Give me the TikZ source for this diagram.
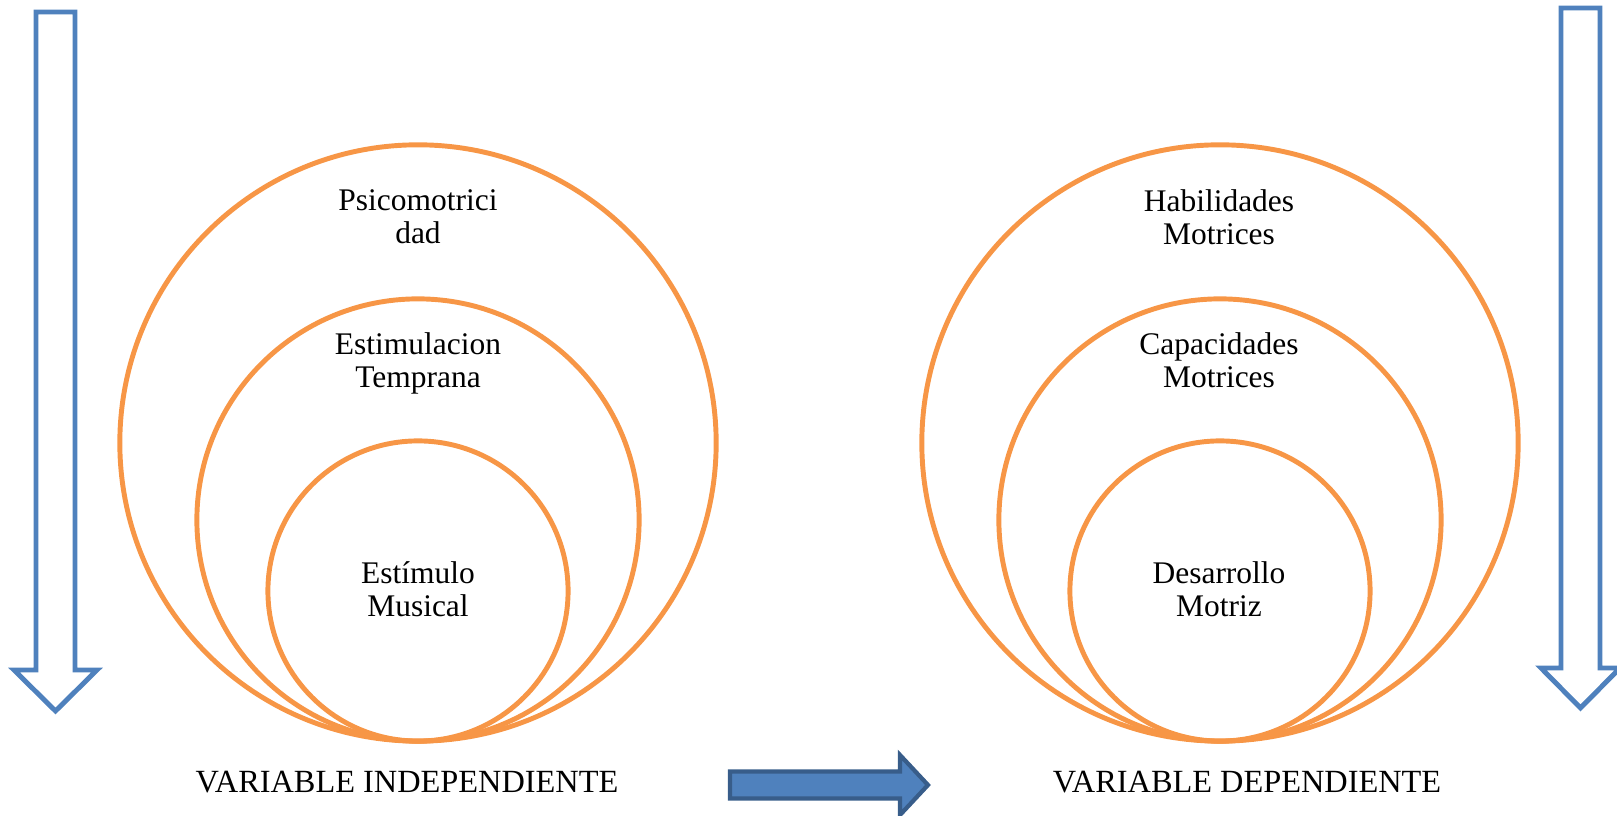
\documentclass[tikz,border=0pt]{standalone}
\usepackage{fontspec}
\setmainfont{Liberation Serif}
\definecolor{ringorange}{HTML}{F79646}
\definecolor{arrowblue}{HTML}{4F81BD}
\definecolor{arrowdark}{HTML}{385D8A}

\begin{document}
\begin{tikzpicture}[x=0.01cm,y=-0.01cm,
  ring/.style={draw=ringorange,line width=1.4pt,circle,inner sep=0pt},
  lbl/.style={align=center,font=\fontsize{8.95}{9.4}\selectfont,inner sep=0pt},
  varlbl/.style={anchor=base,font=\fontsize{9.2}{9.4}\selectfont,inner sep=0pt},
  hollowarrow/.style={draw=arrowblue,line width=1.4pt,fill=white,line join=miter}]
\useasboundingbox (0,0) rectangle (1617,816);

\draw[hollowarrow] (36,12) -- (75,12) -- (75,670) -- (97,670) -- (55.5,711) -- (14,670) -- (36,670) -- cycle;
\draw[hollowarrow] (1561,8) -- (1600,8) -- (1600,668) -- (1620,668) -- (1580.5,708) -- (1541,668) -- (1561,668) -- cycle;

\node[ring,minimum size=5.96cm] (psico) at (418,443) {};
\node[ring,minimum size=4.42cm] (estim) at (418,520) {};
\node[ring,minimum size=3.00cm] (music) at (418,591) {};
\node[ring,minimum size=5.96cm] (habil) at (1220,443) {};
\node[ring,minimum size=4.42cm] (capac) at (1220,520) {};
\node[ring,minimum size=3.00cm] (desar) at (1220,591) {};

\node[lbl] (psicotext) at (418,217) {Psicomotrici\\dad};
\node[lbl] (estimtext) at (418,363.5) {Estimulacion\\Temprana};
\node[lbl] (musictext) at (418,589) {Estímulo\\Musical};
\node[lbl] (habiltext) at (1219,217) {Habilidades\\Motrices};
\node[lbl] (capactext) at (1219,360) {Capacidades\\Motrices};
\node[lbl] (desartext) at (1219,589) {Desarrollo\\Motriz};

\node[varlbl] (indep) at (407,793) {VARIABLE INDEPENDIENTE};
\node[varlbl] (dep) at (1247,793) {VARIABLE DEPENDIENTE};

\draw[fill=arrowblue,draw=arrowdark,line width=1.2pt,line join=miter] (730,771.5) -- (900,771.5) -- (900,755) -- (928,785) -- (900,815) -- (900,798.5) -- (730,798.5) -- cycle;
\end{tikzpicture}
\end{document}
